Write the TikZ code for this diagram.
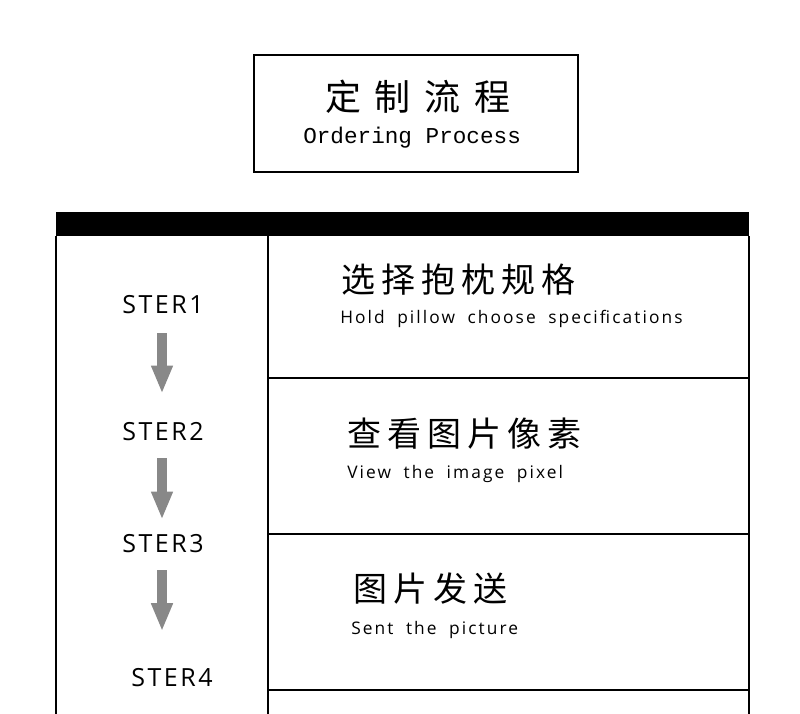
\documentclass[tikz,border=0pt]{standalone}
\usepackage{fontspec}
\usepackage{tikz}
\usetikzlibrary{positioning}
\usetikzlibrary{arrows.meta}
\setmainfont{Open Sans}
\newfontfamily\titlecn[LetterSpace=38]{Noto Sans CJK SC}
\newfontfamily\titleen{Liberation Mono}
\newfontfamily\rowcnfont[LetterSpace=18]{Noto Sans CJK SC}
\newfontfamily\rowenfont[LetterSpace=12,WordSpace=1.9]{Open Sans}
\newfontfamily\stepfont[LetterSpace=10]{Open Sans}
\definecolor{arrowgray}{RGB}{136,136,136}
\tikzset{
  frame/.style={line width=1.5pt},
  steplabel/.style={inner sep=0pt, font=\stepfont\fontsize{18.75pt}{20pt}\selectfont},
  cntitle/.style={anchor=west, inner sep=0pt, font=\rowcnfont\fontsize{25.5pt}{28pt}\selectfont},
  entitle/.style={anchor=base west, inner sep=0pt, font=\rowenfont\fontsize{13pt}{15pt}\selectfont},
  downarrow/.style={line width=7.5pt, draw=arrowgray, -{Triangle[width=15pt,length=21pt]}},
}

\begin{document}
\begin{tikzpicture}[x=0.75pt,y=-0.75pt]
\useasboundingbox (0,0) rectangle (800,714);
% heading box
\node[draw, frame, minimum width=243pt, minimum height=87.75pt] (titlebox) at (416,113.5) {};
\node[anchor=west, inner sep=0pt, font=\titlecn\fontsize{27pt}{30pt}\selectfont] (titlecn) at (325,97) {定制流程};
\node[anchor=base west, inner sep=0pt, font=\titleen\fontsize{17pt}{19pt}\selectfont] (titleen) at (303,143) {Ordering Process};
% table
\fill (56,212) rectangle (749,236);
\draw[frame] (56,236) -- (56,714);
\draw[frame] (268,236) -- (268,714);
\draw[frame] (749,236) -- (749,714);
\draw[frame] (268,378) -- (749,378);
\draw[frame] (268,534) -- (749,534);
\draw[frame] (268,690) -- (749,690);
% steps
\node[steplabel] (ster1) at (163,305) {STER1};
\node[steplabel] (ster2) at (163,432) {STER2};
\node[steplabel] (ster3) at (163,544) {STER3};
\node[steplabel] (ster4) at (172,678) {STER4};
\draw[downarrow, shorten <=14pt, shorten >=21.75pt] (ster1.south -| 162,0) -- (ster2.north -| 162,0);
\draw[downarrow, shorten <=12.75pt, shorten >=11.25pt] (ster2.south -| 162,0) -- (ster3.north -| 162,0);
\draw[downarrow, shorten <=12.5pt, shorten >=28pt] (ster3.south -| 162,0) -- (ster4.north -| 162,0);
% rows
\node[cntitle] (row1cn) at (341,280) {选择抱枕规格};
\node[entitle] (row1en) at (340,323) {Hold pillow choose specifications};
\node[cntitle] (row2cn) at (347,434) {查看图片像素};
\node[entitle] (row2en) at (347,478) {View the image pixel};
\node[cntitle] (row3cn) at (353,589) {图片发送};
\node[entitle] (row3en) at (351,634) {Sent the picture};
\end{tikzpicture}
\end{document}
